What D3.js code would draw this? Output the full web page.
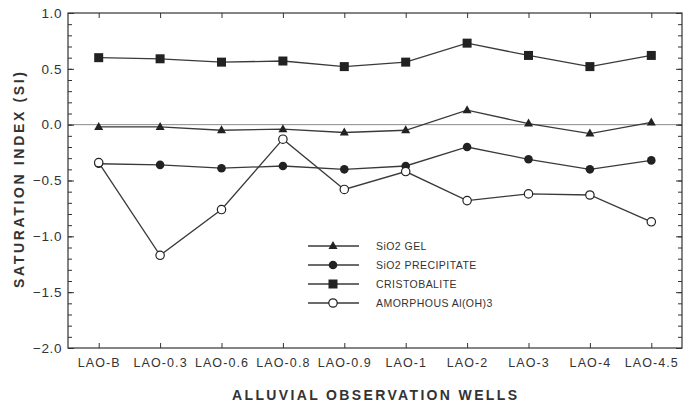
<!DOCTYPE html>
<html>
<head>
<meta charset="utf-8">
<script src="https://cdn.jsdelivr.net/npm/d3@7"></script>
<style>
  html, body { margin: 0; padding: 0; background: #fff; }
  svg { display: block; }
  text { font-family: "Liberation Sans", Arial, Helvetica, sans-serif; fill: #333; }
</style>
</head>
<body>
<svg id="chart" width="692" height="403"></svg>
<script>
// ---- data ----
const categories = ["LAO-B", "LAO-0.3", "LAO-0.6", "LAO-0.8", "LAO-0.9", "LAO-1", "LAO-2", "LAO-3", "LAO-4", "LAO-4.5"];
const sio2Gel = [-0.02, -0.02, -0.05, -0.04, -0.07, -0.05, 0.13, 0.01, -0.08, 0.02];
const sio2Precipitate = [-0.35, -0.36, -0.39, -0.37, -0.40, -0.37, -0.20, -0.31, -0.40, -0.32];
const cristobalite = [0.60, 0.59, 0.56, 0.57, 0.52, 0.56, 0.73, 0.62, 0.52, 0.62];
const amorphousAlOH3 = [-0.34, -1.17, -0.76, -0.13, -0.58, -0.42, -0.68, -0.62, -0.63, -0.87];
const seriesNames = ["SiO2 GEL", "SiO2 PRECIPITATE", "CRISTOBALITE", "AMORPHOUS Al(OH)3"];
const yMajorTicks = [1.0, 0.5, 0.0, -0.5, -1.0, -1.5, -2.0];
const yTitle = "SATURATION INDEX (SI)";
const xTitle = "ALLUVIAL OBSERVATION WELLS";

// ---- layout ----
const svg = d3.select("#chart");
const L = 68, R = 682, T = 13, B = 348;
const ink = "#333";

const x = d3.scalePoint().domain(categories).range([L, R]).padding(0.5);
const y = d3.scaleLinear().domain([-2, 1]).range([B, T]);
const minorTicks = d3.range(-20, 11).map(d => d / 10);

// zero line
svg.append("line")
  .attr("x1", L).attr("x2", R).attr("y1", y(0)).attr("y2", y(0))
  .attr("stroke", "#8a8a8a").attr("stroke-width", 1);

// axes
function styleAxis(g) {
  g.select(".domain").remove();
  g.selectAll(".tick line").attr("stroke", ink).attr("stroke-width", 1);
  g.selectAll("text").attr("fill", ink);
}
svg.append("g").attr("transform", `translate(${L},0)`)
  .call(d3.axisLeft(y).tickValues(minorTicks).tickSize(-4).tickFormat(""))
  .call(styleAxis);
svg.append("g").attr("transform", `translate(${L},0)`)
  .call(d3.axisLeft(y).tickValues(yMajorTicks).tickSize(-6).tickPadding(6).tickFormat(d3.format(".1f")))
  .call(styleAxis)
  .selectAll("text").style("font-size", "13.5px").style("letter-spacing", "0.6px");
svg.append("g").attr("transform", `translate(${R},0)`)
  .call(d3.axisRight(y).tickValues(minorTicks).tickSize(-4).tickFormat(""))
  .call(styleAxis);
svg.append("g").attr("transform", `translate(${R},0)`)
  .call(d3.axisRight(y).tickValues(yMajorTicks).tickSize(-6).tickFormat(""))
  .call(styleAxis);
svg.append("g").attr("transform", `translate(0,${B})`)
  .call(d3.axisBottom(x).tickSize(-5).tickPadding(10))
  .call(styleAxis)
  .selectAll("text").style("font-size", "12.5px").style("letter-spacing", "1.1px");
svg.append("g").attr("transform", `translate(0,${T})`)
  .call(d3.axisTop(x).tickSize(-5).tickFormat(""))
  .call(styleAxis);

// frame
svg.append("rect").attr("x", L).attr("y", T).attr("width", R - L).attr("height", B - T)
  .attr("fill", "none").attr("stroke", ink).attr("stroke-width", 1.2);

// series
const line = d3.line().x((d, i) => x(categories[i])).y(d => y(d));
const series = [
  { name: seriesNames[0], values: sio2Gel, marker: "triangle" },
  { name: seriesNames[1], values: sio2Precipitate, marker: "circle" },
  { name: seriesNames[2], values: cristobalite, marker: "square" },
  { name: seriesNames[3], values: amorphousAlOH3, marker: "open" }
];
function drawMarker(g, type, cx, cy) {
  if (type === "square") {
    g.append("rect").attr("x", cx - 4.5).attr("y", cy - 4.5).attr("width", 9).attr("height", 9)
      .attr("fill", "#222");
  } else if (type === "circle") {
    g.append("circle").attr("cx", cx).attr("cy", cy).attr("r", 4.3).attr("fill", "#222");
  } else if (type === "triangle") {
    g.append("path").attr("d", `M${cx},${cy - 5} L${cx + 4.5},${cy + 3} L${cx - 4.5},${cy + 3} Z`)
      .attr("fill", "#222");
  } else {
    g.append("circle").attr("cx", cx).attr("cy", cy).attr("r", 4.2)
      .attr("fill", "#fff").attr("stroke", "#222").attr("stroke-width", 1.2);
  }
}
series.forEach(s => {
  svg.append("path").datum(s.values).attr("d", line)
    .attr("fill", "none").attr("stroke", "#3a3a3a").attr("stroke-width", 1.3);
});
series.forEach(s => {
  const g = svg.append("g");
  s.values.forEach((v, i) => drawMarker(g, s.marker, x(categories[i]), y(v)));
});

// legend
const legendRows = [246, 265, 284, 303];
series.forEach((s, i) => {
  const ly = legendRows[i];
  const g = svg.append("g");
  g.append("line").attr("x1", 308).attr("x2", 359).attr("y1", ly).attr("y2", ly)
    .attr("stroke", "#3a3a3a").attr("stroke-width", 1.3);
  drawMarker(g, s.marker, 333, ly);
  g.append("text").attr("x", 376).attr("y", ly).attr("dy", "0.36em")
    .style("font-size", "10.5px").style("letter-spacing", "0.45px").text(s.name);
});

// titles
svg.append("text")
  .attr("transform", `translate(24,180) rotate(-90)`)
  .attr("text-anchor", "middle")
  .attr("textLength", 216).attr("lengthAdjust", "spacing")
  .style("font-size", "14px").style("font-weight", "bold")
  .text(yTitle);
svg.append("text")
  .attr("x", 374.5).attr("y", 400)
  .attr("text-anchor", "middle")
  .attr("textLength", 285).attr("lengthAdjust", "spacing")
  .style("font-size", "14px").style("font-weight", "bold")
  .text(xTitle);
</script>
</body>
</html>
